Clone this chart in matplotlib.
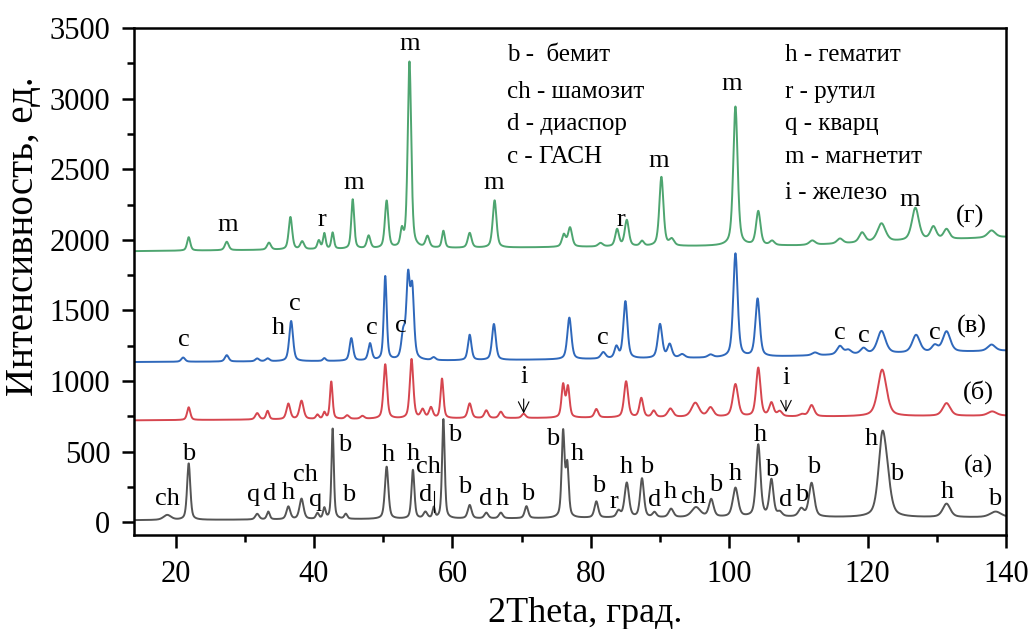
import numpy as np
import matplotlib
matplotlib.use("Agg")
import matplotlib.pyplot as plt
from matplotlib.ticker import MultipleLocator

plt.rcParams['font.family'] = ['Liberation Serif', 'DejaVu Serif']

# peak lists: (2theta, height above baseline, fwhm)
peaks_a = [(18.8, 35, 1.3), (21.9, 400, 0.55), (31.8, 40, 0.65), (33.4, 55, 0.5),
           (36.3, 90, 0.65), (38.2, 145, 0.7), (40.5, 40, 0.5), (41.5, 75, 0.45),
           (42.7, 640, 0.4), (44.6, 35, 0.5), (50.5, 370, 0.6), (54.3, 345, 0.5),
           (56.1, 45, 0.65), (57.3, 75, 0.4), (58.7, 705, 0.45), (62.5, 95, 0.65),
           (64.9, 40, 0.65), (67.0, 40, 0.65), (70.7, 85, 0.6), (76.0, 600, 0.5),
           (76.6, 360, 0.5), (80.8, 115, 0.65), (84.0, 45, 0.65), (85.2, 245, 0.75),
           (87.4, 275, 0.65), (89.2, 35, 0.65), (91.6, 60, 0.8), (95.2, 70, 1.5),
           (97.4, 125, 0.8), (100.9, 205, 0.9), (104.2, 510, 0.75), (106.1, 260, 0.7),
           (107.3, 30, 0.8), (110.4, 55, 0.9), (111.9, 240, 0.9), (122.1, 520, 1.3),
           (122.8, 190, 1.3), (131.4, 95, 1.3), (138.5, 40, 1.9)]
base_a = [(14, 15), (60, 25), (100, 35), (140, 35)]

peaks_b = [(21.9, 90, 0.55), (31.8, 45, 0.65), (33.3, 60, 0.5), (36.3, 110, 0.65),
           (38.2, 130, 0.7), (40.5, 30, 0.5), (41.5, 45, 0.45), (42.5, 265, 0.45),
           (44.8, 25, 0.65), (47.0, 20, 0.65), (50.3, 385, 0.6), (54.1, 420, 0.6),
           (55.7, 60, 0.65), (56.9, 75, 0.65), (58.5, 280, 0.5), (62.5, 105, 0.65),
           (64.9, 55, 0.65), (67.0, 45, 0.65), (70.3, 30, 0.65), (76.0, 230, 0.55),
           (76.7, 215, 0.55), (80.8, 60, 0.65), (85.1, 255, 0.7), (87.3, 135, 0.65),
           (89.1, 45, 0.65), (91.5, 60, 0.9), (95.1, 100, 1.3), (97.3, 65, 1.0),
           (100.9, 230, 0.9), (104.2, 345, 0.75), (106.1, 95, 0.75), (107.3, 35, 0.8),
           (110.5, 15, 0.9), (111.9, 80, 0.9), (122.1, 330, 1.5), (131.4, 90, 1.3),
           (138.0, 30, 1.5)]
base_b = [(14, 722), (60, 735), (100, 745), (140, 755)]

peaks_v = [(21.1, 30, 0.65), (27.4, 45, 0.65), (31.8, 20, 0.65), (33.3, 20, 0.65),
           (36.7, 285, 0.65), (41.5, 20, 0.5), (45.4, 160, 0.6), (48.1, 120, 0.6),
           (50.3, 595, 0.5), (52.9, 175, 0.65), (53.6, 560, 0.6), (54.2, 480, 0.6),
           (57.3, 20, 0.65), (62.5, 180, 0.6), (66.0, 255, 0.65), (76.9, 295, 0.7),
           (81.8, 45, 0.8), (83.7, 80, 0.65), (85.0, 405, 0.7), (90.0, 240, 0.75),
           (91.4, 95, 0.75), (93.2, 25, 0.9), (97.3, 20, 0.9), (100.9, 735, 0.75),
           (104.1, 410, 0.75), (112.4, 20, 1.0), (116.0, 60, 1.0), (117.2, 30, 1.0),
           (119.4, 40, 1.0), (122.0, 160, 1.4), (127.0, 125, 1.3), (129.7, 45, 1.0),
           (131.4, 145, 1.3), (137.9, 45, 1.3)]
base_v = [(14, 1135), (60, 1145), (100, 1165), (140, 1215)]

peaks_g = [(21.9, 95, 0.55), (27.4, 60, 0.65), (33.5, 50, 0.65), (36.6, 230, 0.6),
           (38.3, 55, 0.65), (40.7, 60, 0.5), (41.5, 110, 0.45), (42.7, 115, 0.45),
           (45.6, 350, 0.5), (47.9, 90, 0.6), (50.5, 335, 0.6), (52.7, 110, 0.5),
           (53.8, 1320, 0.6), (56.4, 80, 0.65), (58.7, 120, 0.5), (62.5, 105, 0.65),
           (66.1, 335, 0.65), (76.1, 85, 0.65), (77.0, 135, 0.7), (81.4, 25, 0.8),
           (83.8, 120, 0.65), (85.2, 185, 0.7), (87.4, 35, 0.65), (90.2, 490, 0.7),
           (91.7, 45, 0.8), (100.9, 985, 0.75), (104.2, 240, 0.75), (106.2, 30, 0.8),
           (112.0, 30, 1.0), (116.0, 35, 1.0), (119.2, 70, 1.0), (122.0, 130, 1.4),
           (126.9, 230, 1.2), (129.5, 90, 1.0), (131.4, 70, 1.0), (137.9, 50, 1.3)]
base_g = [(14, 1920), (80, 1950), (110, 1960), (140, 2020)]

# phase marks: (text, 2theta, intensity)
marks_a = [("ch", 18.8, 168), ("b", 21.9, 487), ("q", 31.3, 191), ("d", 33.6, 203),
           ("h", 36.3, 208), ("ch", 38.8, 333), ("q", 40.2, 156), ("b", 44.4, 546),
           ("b", 45.0, 191), ("h", 50.8, 475), ("h", 54.3, 487), ("ch", 56.6, 392),
           ("d", 56.1, 191), ("b", 60.3, 617), ("b", 61.8, 250), ("d", 64.8, 168),
           ("h", 67.2, 168), ("b", 70.9, 203), ("b", 74.5, 593), ("h", 78.0, 482),
           ("b", 81.1, 255), ("r", 83.3, 144), ("h", 85.2, 392), ("b", 88.1, 392),
           ("d", 89.2, 156), ("h", 91.5, 215), ("ch", 94.8, 180), ("b", 98.0, 262),
           ("h", 100.9, 345), ("h", 104.5, 617), ("b", 106.2, 369), ("d", 108.2, 156),
           ("b", 110.5, 191), ("b", 112.2, 392), ("h", 120.6, 593), ("b", 124.2, 345),
           ("h", 131.5, 215), ("b", 138.3, 168)]
marks_v = [("c", 21.2, 1290), ("h", 34.9, 1373), ("c", 37.2, 1545), ("c", 48.3, 1373),
           ("c", 52.5, 1390), ("c", 81.8, 1302), ("c", 116.0, 1342), ("c", 119.4, 1318),
           ("c", 129.7, 1342)]
marks_g = [("m", 27.5, 2105), ("r", 41.2, 2140), ("m", 45.7, 2400), ("m", 53.8, 3390),
           ("m", 66.0, 2400), ("r", 84.3, 2140), ("m", 89.8, 2555), ("m", 100.4, 3100),
           ("m", 126.1, 2280)]
iron_marks = [(70.3, 1030, 770), (108.2, 1020, 780)]

curve_names = ["(а)", "(б)", "(в)", "(г)"]
name_pos = [(136.0, 397), (136.0, 923), (135.0, 1385), (134.8, 2165)]

legend_left = ["b -  бемит", "ch - шамозит", "d - диаспор", "c - ГАСН"]
legend_right = ["h - гематит", "r - рутил", "q - кварц", "m - магнетит", "i - железо"]
legend_rows = [3310, 3050, 2817, 2589, 2330]

colors = ["#555555", "#d6464f", "#2f68bb", "#4ea570"]


def pattern(x, peaks, base):
    bx, by = zip(*base)
    y = np.interp(x, bx, by)
    for c, a, w in peaks:
        u = (x - c) / w
        y = y + a * (0.5 * np.exp(-4 * np.log(2) * u ** 2) + 0.5 / (1 + 4 * u ** 2))
    return y


x = np.linspace(14, 140, 4000)

fig = plt.figure(figsize=(10.31, 6.29), dpi=100)
ax = fig.add_axes([0.130, 0.1494, 0.8458, 0.8061])

for peaks, base, col in zip([peaks_a, peaks_b, peaks_v, peaks_g],
                            [base_a, base_b, base_v, base_g], colors):
    ax.plot(x, pattern(x, peaks, base), color=col, lw=1.4)

lab = dict(fontsize=19, ha='center', va='center', color='black')
for t, px, py in marks_a + marks_v + marks_g:
    ax.text(px, py, t, **lab)
ax.plot([57.3, 57.3], [75, 225], color='black', lw=0.8)

for px, ty, tip in iron_marks:
    ax.annotate("i", xy=(px, tip), xytext=(px, ty), ha='center', va='center',
                fontsize=19, arrowprops=dict(arrowstyle='->', lw=0.8, color='black',
                                             shrinkA=6, shrinkB=0))

for t, (px, py) in zip(curve_names, name_pos):
    ax.text(px, py, t, **lab)

for t, py in zip(legend_left, legend_rows):
    ax.text(67.9, py, t, fontsize=18, ha='left', va='center')
for t, py in zip(legend_right, legend_rows):
    ax.text(108.1, py, t, fontsize=18, ha='left', va='center')

ax.set_xlim(14, 140)
ax.set_ylim(-90, 3500)
ax.xaxis.set_major_locator(MultipleLocator(20))
ax.xaxis.set_minor_locator(MultipleLocator(10))
ax.yaxis.set_major_locator(MultipleLocator(500))
ax.yaxis.set_minor_locator(MultipleLocator(250))
ax.tick_params(which='both', direction='out', top=False, right=False, width=1.8)
ax.tick_params(which='major', length=9, labelsize=22)
ax.tick_params(axis='x', which='major', pad=9)
ax.tick_params(axis='y', which='major', pad=8)
ax.tick_params(which='minor', length=5)
for s in ax.spines.values():
    s.set_linewidth(1.8)

fig.text(585 / 1031, 1 - 613 / 629, "2Theta, град.", fontsize=26, ha='center', va='center')
fig.text(24 / 1031, 1 - 236 / 629, "Интенсивность, ед.", fontsize=28, rotation=90,
         ha='center', va='center')

fig.savefig("out.png", dpi=100)
